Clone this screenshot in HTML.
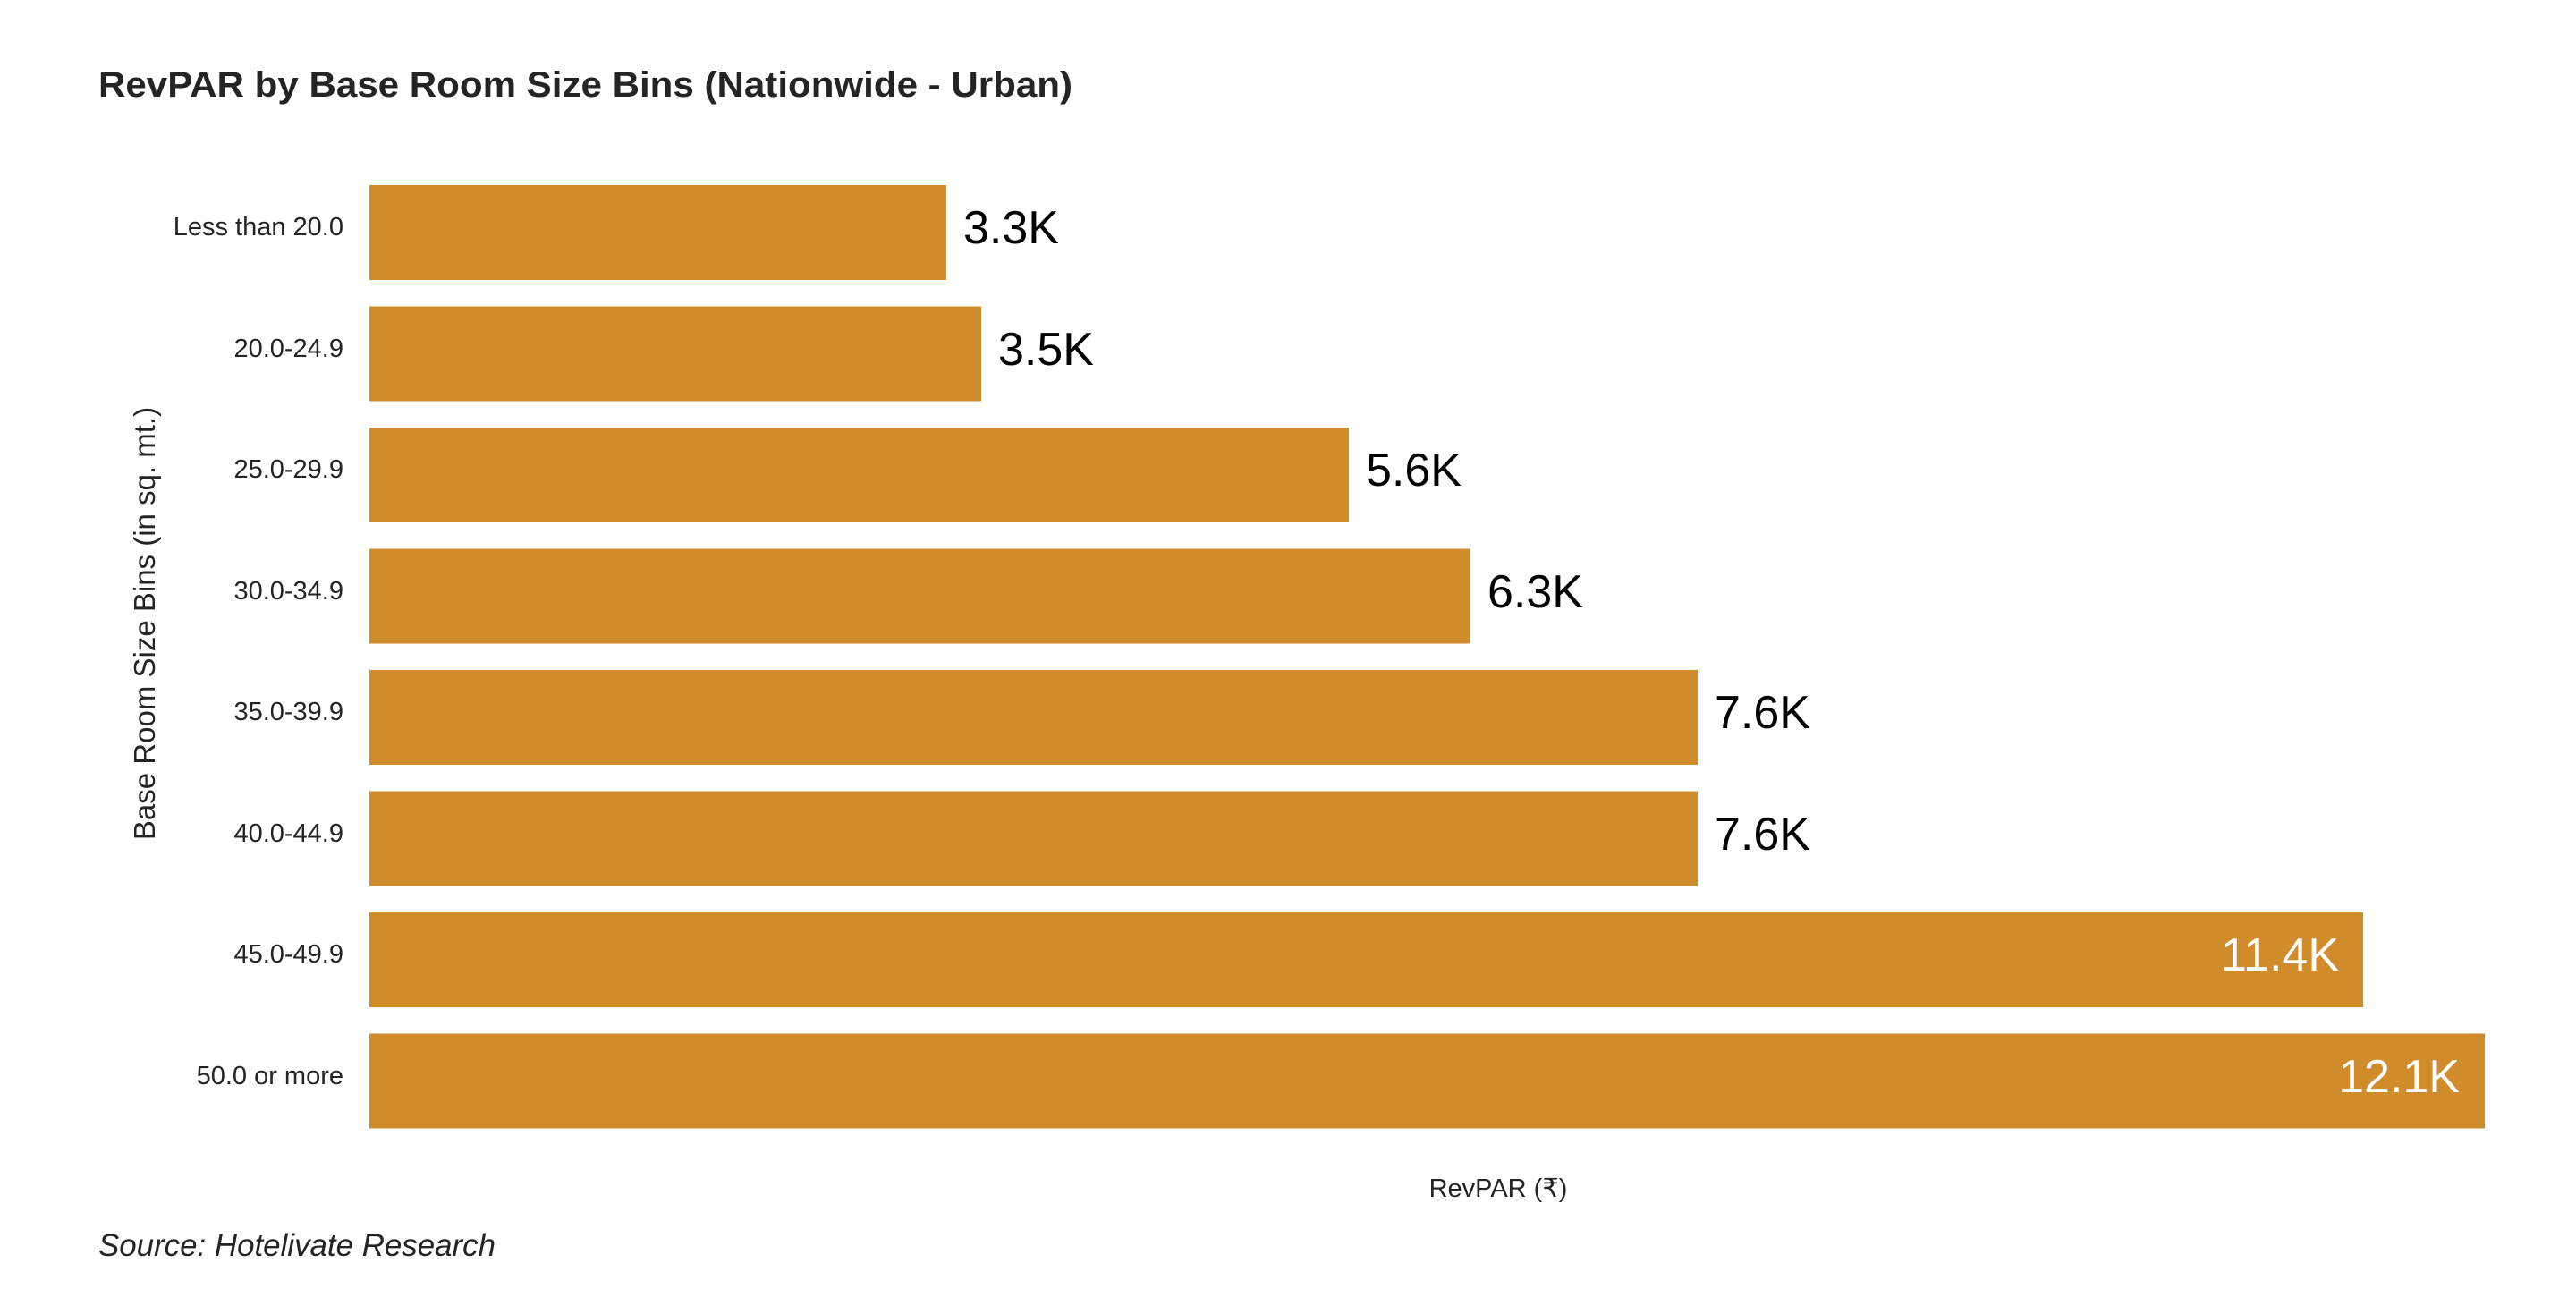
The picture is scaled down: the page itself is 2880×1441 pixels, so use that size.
<!DOCTYPE html>
<html><head><meta charset="utf-8"><style>
html,body{margin:0;padding:0;background:#fff;}
svg{display:block}
</style></head><body>
<svg width="2880" height="1441" viewBox="0 0 2880 1441" xmlns="http://www.w3.org/2000/svg" font-family="Liberation Sans, sans-serif">
<rect width="2880" height="1441" fill="#fff"/>
<text x="110" y="108" font-size="40" font-weight="bold" fill="#252423" textLength="1089" lengthAdjust="spacingAndGlyphs">RevPAR by Base Room Size Bins (Nationwide - Urban)</text>
<g fill="#D08C2B">
<rect x="413" y="207" width="645" height="106"/>
<rect x="413" y="342.5" width="684" height="106"/>
<rect x="413" y="478" width="1095" height="106"/>
<rect x="413" y="613.5" width="1231" height="106"/>
<rect x="413" y="749" width="1485" height="106"/>
<rect x="413" y="884.5" width="1485" height="106"/>
<rect x="413" y="1020" width="2229" height="106"/>
<rect x="413" y="1155.5" width="2365" height="106"/>
</g>
<g font-size="29" fill="#252423" text-anchor="end">
<text x="384" y="263">Less than 20.0</text>
<text x="384" y="399">20.0-24.9</text>
<text x="384" y="534">25.0-29.9</text>
<text x="384" y="670">30.0-34.9</text>
<text x="384" y="805">35.0-39.9</text>
<text x="384" y="941">40.0-44.9</text>
<text x="384" y="1076">45.0-49.9</text>
<text x="384" y="1212">50.0 or more</text>
</g>
<g font-size="52" fill="#000">
<text x="1077" y="272">3.3K</text>
<text x="1116" y="408">3.5K</text>
<text x="1527" y="543">5.6K</text>
<text x="1663" y="679">6.3K</text>
<text x="1917" y="814">7.6K</text>
<text x="1917" y="950">7.6K</text>
</g>
<g font-size="52" fill="#fff" text-anchor="end">
<text x="2615" y="1085">11.4K</text>
<text x="2750" y="1221">12.1K</text>
</g>
<text transform="translate(173,697) rotate(-90)" font-size="33" fill="#252423" text-anchor="middle">Base Room Size Bins (in sq. mt.)</text>
<text x="1675" y="1338" font-size="29" fill="#252423" text-anchor="middle">RevPAR (₹)</text>
<text x="110" y="1404" font-size="35" font-style="italic" fill="#252423" textLength="444" lengthAdjust="spacingAndGlyphs">Source: Hotelivate Research</text>
</svg>
</body></html>
